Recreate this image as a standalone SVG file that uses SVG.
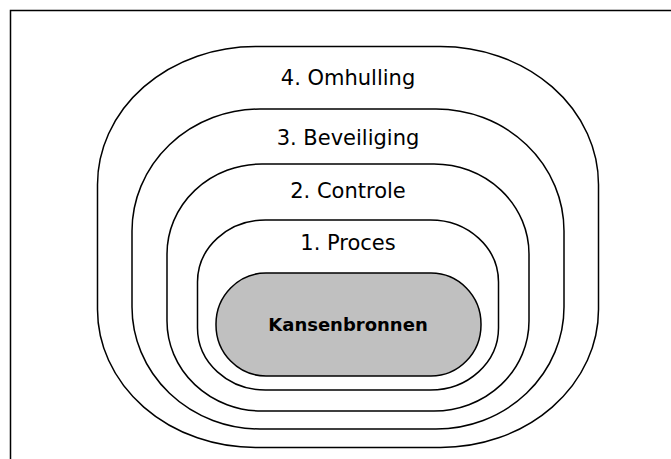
<svg xmlns="http://www.w3.org/2000/svg" width="671" height="459" viewBox="0 0 671 459">
<style>
.ring{fill:none;stroke:#000;stroke-width:1.5}
.core{fill:#c0c0c0;stroke:#000;stroke-width:1.5}
.lbl{font-family:"DejaVu Sans",Verdana,sans-serif;font-size:21px;fill:#000;text-anchor:middle}
.bold{font-weight:bold;font-size:18px}
</style>
<rect x="10.5" y="10.5" width="680" height="470" fill="#fff" stroke="#000" stroke-width="1.5"/>
<g id="omhulling">
<rect class="ring" x="97.5" y="46.5" width="501" height="401" rx="158" ry="138"/>
<text class="lbl" x="348" y="85">4. Omhulling</text>
</g>
<g id="beveiliging">
<rect class="ring" x="132" y="109" width="432" height="320" rx="128" ry="122"/>
<text class="lbl" x="348" y="145">3. Beveiliging</text>
</g>
<g id="controle">
<rect class="ring" x="167" y="164" width="362" height="247" rx="95" ry="90"/>
<text class="lbl" x="348" y="198">2. Controle</text>
</g>
<g id="proces">
<rect class="ring" x="197.5" y="220" width="301" height="170" rx="68" ry="62"/>
<text class="lbl" x="348" y="250">1. Proces</text>
</g>
<g id="kansenbronnen">
<rect class="core" x="216" y="273" width="265" height="103" rx="50" ry="51"/>
<text class="lbl bold" x="348" y="331">Kansenbronnen</text>
</g>
<g id="connectors"/>
</svg>
